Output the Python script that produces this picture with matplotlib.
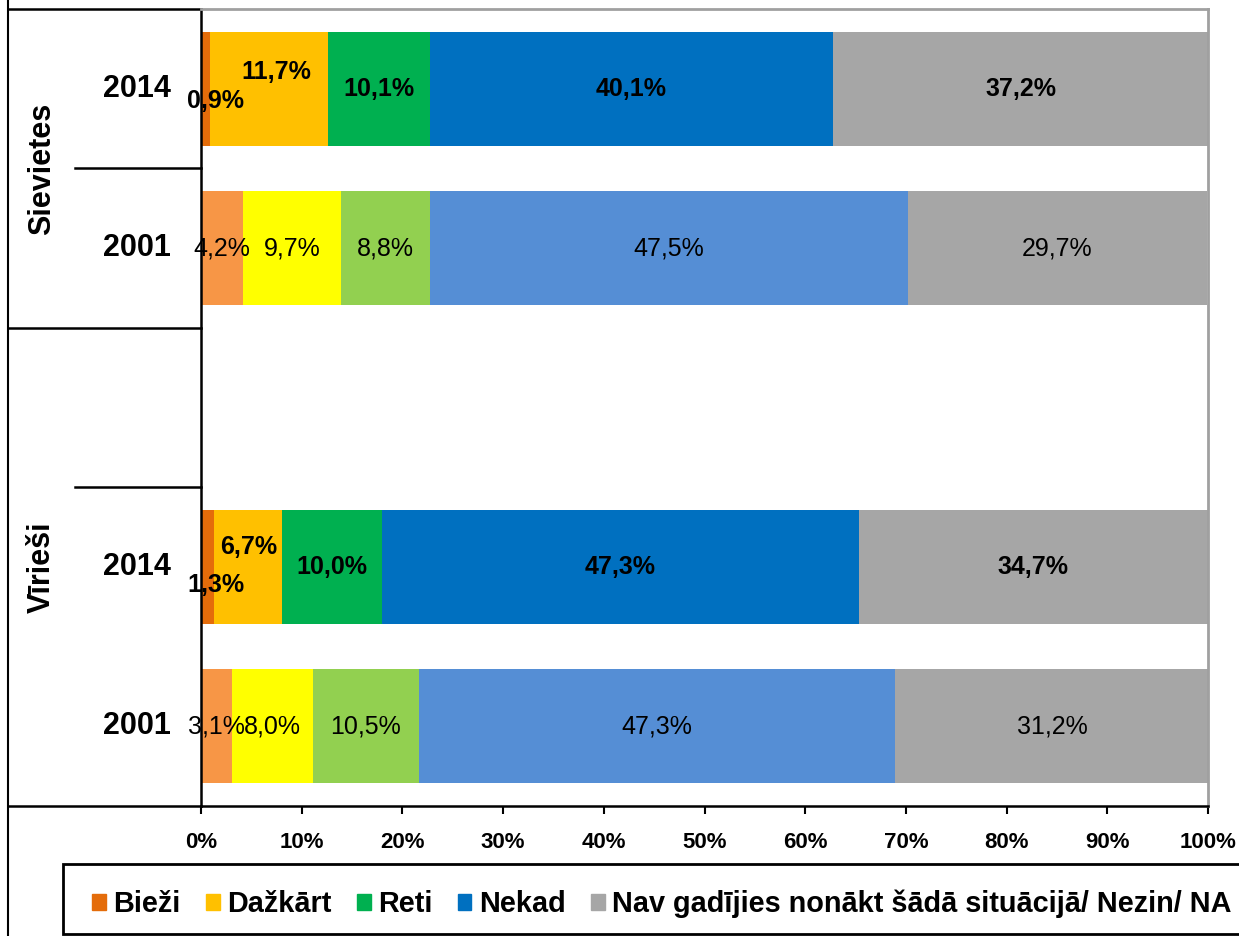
import matplotlib
matplotlib.use('Agg')
import matplotlib.pyplot as plt
import matplotlib.transforms as mtransforms
from matplotlib.patches import Rectangle
import numpy as np

plt.rcParams['font.family'] = ['Liberation Sans', 'DejaVu Sans']

# data (percent)
categories = ['Bieži', 'Dažkārt', 'Reti', 'Nekad',
              'Nav gadījies nonākt šādā situācijā/ Nezin/ NA']
sievietes_2014 = [0.9, 11.7, 10.1, 40.1, 37.2]
sievietes_2001 = [4.2, 9.7, 8.8, 47.5, 29.7]
viriesi_2014 = [1.3, 6.7, 10.0, 47.3, 34.7]
viriesi_2001 = [3.1, 8.0, 10.5, 47.3, 31.2]

years = ['2014', '2001', '2014', '2001']
groups = ['Sievietes', 'Vīrieši']

colors_2014 = ['#E46C0A', '#FFC000', '#00B050', '#0070C0', '#A6A6A6']
colors_2001 = ['#F79646', '#FFFF00', '#92D050', '#558ED5', '#A6A6A6']

W, H = 1239, 936


def fx(x):
    return x / W


def fy(y):
    return 1 - y / H


def main():
    fig = plt.figure(figsize=(W / 100, H / 100), dpi=100)
    ax = fig.add_axes([fx(201), fy(806), fx(1208) - fx(201), fy(9) - fy(806)])

    rows = [sievietes_2014, sievietes_2001, viriesi_2014, viriesi_2001]
    ypos = [0, 1, 3, 4]
    # excel-style nudges for the labels of the thin segments (pixels)
    nudges = {(0, 0): (10, -12), (0, 1): (7, 17),
              (2, 0): (8, -18), (2, 1): (1, 20)}

    for r, (vals, y) in enumerate(zip(rows, ypos)):
        new = years[r] == '2014'
        cols = colors_2014 if new else colors_2001
        left = 0
        for s, v in enumerate(vals):
            ax.barh(y, v, left=left, height=0.715, color=cols[s],
                    edgecolor='none')
            dx, dy = nudges.get((r, s), (0, 0))
            ax.annotate(('%.1f%%' % v).replace('.', ','),
                        (left + v / 2, y), xytext=(dx, dy),
                        textcoords='offset pixels', ha='center',
                        va='center', fontsize=18,
                        fontweight='bold' if new else 'normal',
                        annotation_clip=False)
            left += v

    ax.set_xlim(0, 100)
    ax.set_ylim(4.5, -0.5)
    ax.set_xticks(np.arange(0, 101, 10))
    ax.set_xticklabels(['%d%%' % t for t in range(0, 101, 10)],
                       fontsize=16, fontweight='bold')
    ax.tick_params(axis='x', direction='out', length=6, width=1.5, pad=13)
    ax.set_yticks([])
    for side in ['top', 'right']:
        ax.spines[side].set_color('#A0A0A0')
        ax.spines[side].set_linewidth(2)
    for side in ['left', 'bottom']:
        ax.spines[side].set_color('black')
        ax.spines[side].set_linewidth(1.8)

    # category axis box on the left
    tr = mtransforms.blended_transform_factory(fig.transFigure, ax.transData)
    for yb, x0 in [(-0.5, 8), (0.5, 75), (1.5, 8), (2.5, 75), (4.5, 8)]:
        ax.plot([fx(x0), fx(201)], [yb, yb], color='black', lw=1.8,
                transform=tr, clip_on=False)
    fig.add_artist(plt.Line2D([fx(8), fx(8)], [0, 1], color='black', lw=1.5))

    for r, y in enumerate(ypos):
        ax.text(fx(137), y, years[r], transform=tr, ha='center',
                va='center', fontsize=22, fontweight='bold')
    for g, yc in zip(groups, [0.5, 3.0]):
        ax.text(fx(42), yc, g, transform=tr, ha='center', va='center',
                rotation=90, fontsize=22, fontweight='bold')

    # legend box
    fig.add_artist(Rectangle((fx(63), fy(934)), fx(1300) - fx(63),
                             fy(864) - fy(934), transform=fig.transFigure,
                             facecolor='white', edgecolor='black', lw=2))
    handles = [Rectangle((0, 0), 1, 1, color=c) for c in colors_2014]
    fig.legend(handles, categories, loc='center left',
               bbox_to_anchor=(fx(92), fy(904)), ncol=5, frameon=False,
               prop={'size': 20.8, 'weight': 'bold'}, handlelength=0.48,
               handleheight=0.48, handletextpad=0.26, columnspacing=0.87,
               borderpad=0, borderaxespad=0)

    fig.savefig('out.png', dpi=100)


if __name__ == "__main__":
    main()
